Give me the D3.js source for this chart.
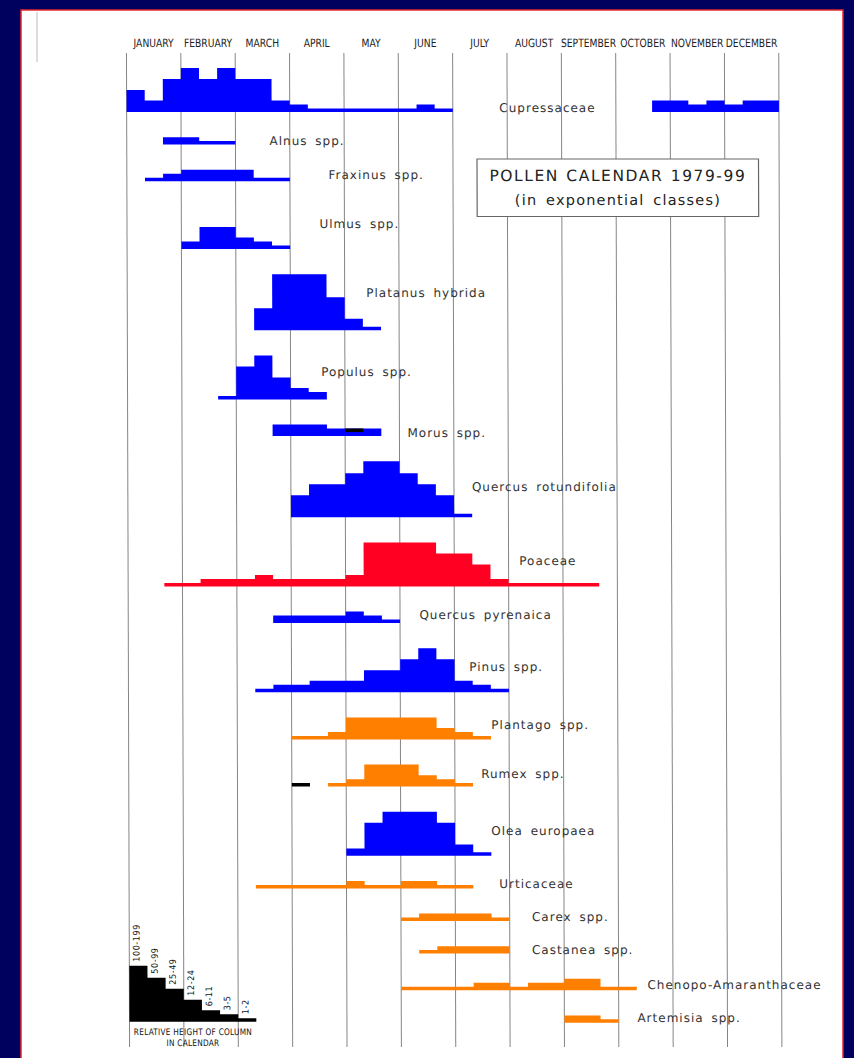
<!DOCTYPE html>
<html>
<head>
<meta charset="utf-8">
<script src="https://cdn.jsdelivr.net/npm/d3@7"></script>
<style>
  body { margin: 0; background: #00005e; }
  svg { display: block; }
</style>
</head>
<body>
<script>
const width = 854;
const height = 1058;

// months across the top, each split in three 10-day periods
const months = ["JANUARY", "FEBRUARY", "MARCH", "APRIL", "MAY", "JUNE",
  "JULY", "AUGUST", "SEPTEMBER", "OCTOBER", "NOVEMBER", "DECEMBER"];

const taxa = ["Cupressaceae", "Alnus spp.", "Fraxinus spp.", "Ulmus spp.",
  "Platanus hybrida", "Populus spp.", "Morus spp.", "Quercus rotundifolia",
  "Poaceae", "Quercus pyrenaica", "Pinus spp.", "Plantago spp.", "Rumex spp.",
  "Olea europaea", "Urticaceae", "Carex spp.", "Castanea spp.",
  "Chenopo-Amaranthaceae", "Artemisia spp."];

// colour group of each taxon (1 blue, 2 red, 3 orange)
const groups = [1, 1, 1, 1, 1, 1, 1, 1, 2, 1, 1, 3, 3, 1, 3, 3, 3, 3, 3];

// first 10-day period (0 = 1-10 January)
const starts = [0, 2, 1, 3, 7, 5, 8, 9, 2, 8, 7, 9, 11, 12, 7, 15, 16, 15, 24];

// exponential class per period (0 none, 1 = 1-2 ... 7 = 100-199)
const classes = [
  [4, 3, 5, 6, 5, 6, 5, 5, 3, 2, 1, 1, 1, 1, 1, 1, 2, 1,
   0, 0, 0, 0, 0, 0, 0, 0, 0, 0, 0, 3, 3, 2, 3, 2, 3, 3],
  [2, 2, 1, 1],
  [1, 2, 3, 3, 3, 3, 1, 1],
  [2, 4, 4, 3, 2, 1],
  [4, 7, 7, 7, 5, 3, 1],
  [1, 5, 6, 4, 3, 2],
  [3, 3, 3, 2, 2, 2],
  [4, 5, 5, 6, 7, 7, 6, 5, 4, 1],
  [1, 1, 2, 2, 2, 3, 2, 2, 2, 2, 3, 6, 6, 6, 6, 5, 5, 4, 2, 1, 1, 1, 1, 1],
  [2, 2, 2, 2, 3, 2, 1],
  [1, 2, 2, 3, 3, 3, 4, 4, 5, 6, 5, 3, 2, 1],
  [1, 1, 2, 4, 4, 4, 4, 4, 3, 2, 1],
  [1, 2, 4, 4, 4, 3, 2, 1],
  [2, 5, 6, 6, 6, 5, 3, 1],
  [1, 1, 1, 1, 1, 2, 1, 1, 2, 2, 1, 1],
  [1, 2, 2, 2, 2, 1],
  [1, 2, 2, 2, 2],
  [1, 1, 1, 1, 2, 2, 1, 2, 2, 3, 3, 1, 1],
  [2, 2, 1]
];

// black marks drawn on top
const markTaxa = ["Morus spp.", "Rumex spp."];
const markPeriods = [12, 9];
const markClasses = [1, 1];
const markOnTop = [true, false];

const legendClasses = [7, 6, 5, 4, 3, 2, 1];
const legendLabels = ["100-199", "50-99", "25-49", "12-24", "6-11", "3-5", "1-2"];

// ---- layout ----
const x = d3.scaleLinear().domain([0, 36]).range([126.3, 778.6]);
const h = d3.scaleOrdinal().domain(d3.range(8)).range([0, 3.5, 7.4, 11.4, 22, 33, 44, 56]);
const color = d3.scaleOrdinal().domain([1, 2, 3]).range(["#0000ff", "#ff0022", "#ff7f00"]);

const firstBase = 112;
const rowGap = 25.2;
const extraGap = { "Ulmus spp.": 20.6 };

const bases = [];
taxa.forEach((t, i) => {
  const top = d3.max(classes[i], (c) => h(c));
  bases.push(i === 0 ? firstBase : bases[i - 1] + top + rowGap + (extraGap[t] || 0));
});

// label position: [period, offset from baseline]
const labelAt = [
  [20.57, -4], [7.88, -3.5], [11.13, -6.5], [10.62, -25], [13.19, -37],
  [10.69, -27], [15.44, -2.5], [18.99, -30], [21.59, -25], [16.07, -8],
  [18.81, -25], [20.02, -14.5], [19.45, -13], [20.0, -25], [20.43, -4],
  [22.23, -3.5], [22.22, -4], [28.59, -5], [28.03, -4.5]
];

const svg = d3.select("body").append("svg")
  .attr("width", width)
  .attr("height", height);

svg.append("rect").attr("width", width).attr("height", height).attr("fill", "#00005e");
svg.append("rect")
  .attr("x", 21).attr("y", 10)
  .attr("width", 822).attr("height", 1060)
  .attr("fill", "#fff")
  .attr("stroke", "#e4262b")
  .attr("stroke-width", 1.5);

svg.append("line")
  .attr("x1", 37).attr("x2", 37).attr("y1", 12).attr("y2", 62)
  .attr("stroke", "#bbb");

// the scan is slightly tilted
const chart = svg.append("g").attr("transform", "skewX(0.18)");

chart.append("g")
  .selectAll("line")
  .data(d3.range(13))
  .join("line")
  .attr("x1", (d) => x(d * 3))
  .attr("x2", (d) => x(d * 3))
  .attr("y1", 53)
  .attr("y2", 1047)
  .attr("stroke", "#858585")
  .attr("stroke-width", 1);

// condensed, tall month names
chart.append("g")
  .selectAll("text")
  .data(months)
  .join("text")
  .attr("transform", (d, i) => `translate(${x(i * 3 + 1.5)},46.8) scale(0.89,1)`)
  .attr("text-anchor", "middle")
  .attr("font-family", "'DejaVu Sans Condensed', 'Liberation Sans Narrow', sans-serif")
  .attr("font-stretch", "condensed")
  .attr("font-size", 11.5)
  .attr("fill", "#222")
  .text((d) => d);

// title box
const box = chart.append("g");
box.append("rect")
  .attr("x", 476.5).attr("y", 159)
  .attr("width", 281.5).attr("height", 57.5)
  .attr("fill", "#fff")
  .attr("stroke", "#666")
  .attr("stroke-width", 1.2);
box.append("text")
  .attr("x", 617.3).attr("y", 181.5)
  .attr("text-anchor", "middle")
  .attr("font-family", "'DejaVu Sans', sans-serif")
  .attr("font-size", 15.5)
  .attr("letter-spacing", 1.55)
  .attr("word-spacing", 1)
  .attr("fill", "#222")
  .text("POLLEN CALENDAR 1979-99");
box.append("text")
  .attr("x", 617.3).attr("y", 205.5)
  .attr("text-anchor", "middle")
  .attr("font-family", "'DejaVu Sans', sans-serif")
  .attr("font-size", 14.5)
  .attr("letter-spacing", 1.2)
  .attr("word-spacing", 3)
  .attr("fill", "#222")
  .text("(in exponential classes)");

// step areas
const area = d3.area()
  .x((d) => x(d.p))
  .y0((d) => d.base)
  .y1((d) => d.base - h(d.c))
  .curve(d3.curveStepAfter);

function runs(start, cls, base) {
  const out = [];
  let cur = null;
  cls.forEach((c, i) => {
    if (c > 0) {
      if (!cur) { cur = []; out.push(cur); }
      cur.push({ p: start + i, c, base });
    } else if (cur) {
      const last = cur[cur.length - 1];
      cur.push({ p: last.p + 1, c: last.c, base });
      cur = null;
    }
  });
  if (cur) {
    const last = cur[cur.length - 1];
    cur.push({ p: last.p + 1, c: last.c, base });
  }
  return out;
}

taxa.forEach((t, i) => {
  chart.append("g")
    .selectAll("path")
    .data(runs(starts[i], classes[i], bases[i]))
    .join("path")
    .attr("d", area)
    .attr("fill", color(groups[i]));
});

chart.append("g")
  .selectAll("rect")
  .data(markTaxa)
  .join("rect")
  .attr("x", (d, i) => x(markPeriods[i]))
  .attr("width", x(1) - x(0))
  .attr("y", (d, i) => {
    const k = taxa.indexOf(d);
    const base = bases[k];
    const under = classes[k][markPeriods[i] - starts[k]] || 0;
    return markOnTop[i] ? base - h(under) : base - h(markClasses[i]);
  })
  .attr("height", (d, i) => h(markClasses[i]))
  .attr("fill", "#000");

chart.append("g")
  .selectAll("text")
  .data(taxa)
  .join("text")
  .attr("x", (d, i) => x(labelAt[i][0]))
  .attr("y", (d, i) => bases[i] + labelAt[i][1])
  .attr("dominant-baseline", "central")
  .attr("font-family", "'DejaVu Sans', sans-serif")
  .attr("font-size", 12)
  .attr("letter-spacing", 1)
  .attr("word-spacing", 3)
  .attr("fill", "#333")
  .text((d) => d);

// legend
const legendBase = 1021.7;
const legend = chart.append("g");
const legendPts = legendClasses.map((c, i) => ({ p: i, c, base: legendBase }));
legendPts.push({ p: legendClasses.length, c: 1, base: legendBase });
legend.append("path")
  .attr("d", area(legendPts))
  .attr("fill", "#000");

legend.selectAll("text.cls")
  .data(legendLabels)
  .join("text")
  .attr("class", "cls")
  .attr("transform", (d, i) =>
    `translate(${x(i + 0.5) - 2},${legendBase - h(legendClasses[i]) - 4}) rotate(-90) scale(0.9,1)`)
  .attr("dominant-baseline", "central")
  .attr("font-family", "'DejaVu Sans', sans-serif")
  .attr("font-size", 9)
  .attr("letter-spacing", 0.6)
  .attr("fill", "#111")
  .text((d) => d);

legend.selectAll("text.cap")
  .data(["RELATIVE HEIGHT OF COLUMN", "IN CALENDAR"])
  .join("text")
  .attr("class", "cap")
  .attr("transform", (d, i) => `translate(${x(3.5)},${1034.5 + i * 11}) scale(0.82,1)`)
  .attr("text-anchor", "middle")
  .attr("font-family", "'DejaVu Sans', sans-serif")
  .attr("font-size", 9)
  .attr("letter-spacing", 0.3)
  .attr("fill", "#111")
  .text((d) => d);
</script>
</body>
</html>
